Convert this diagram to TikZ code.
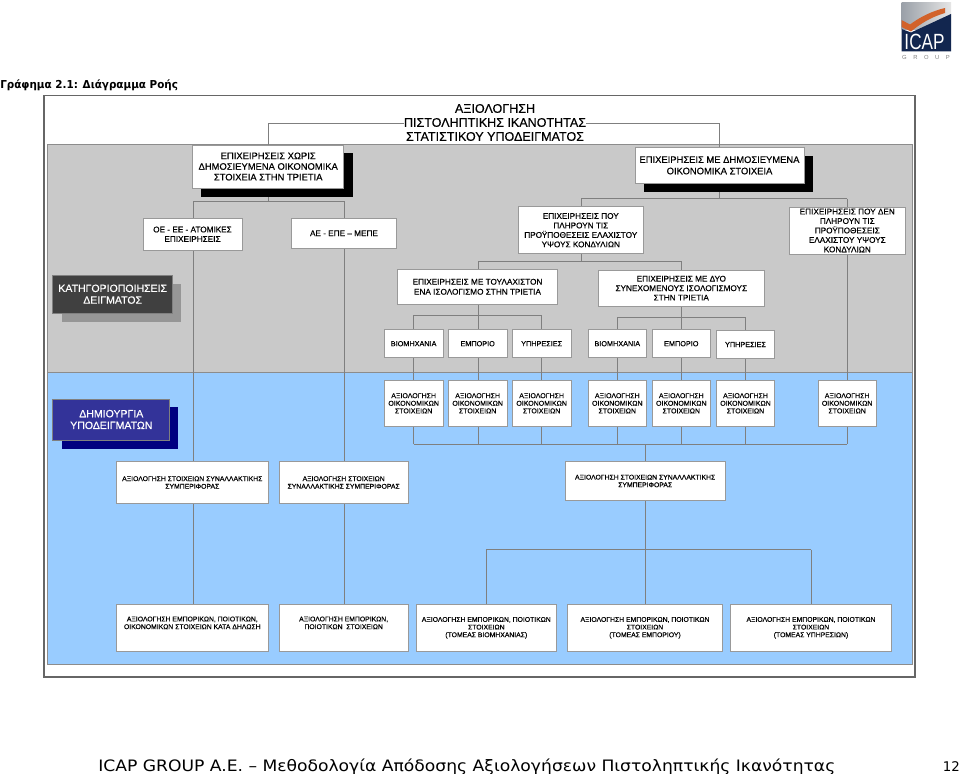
\documentclass[tikz,border=0pt]{standalone}
\usepackage{fontspec}
\setmainfont{Liberation Sans}
\newfontfamily\fb[FakeBold=0.3]{Liberation Sans}
\newfontfamily\tahoma{DejaVu Sans}
\definecolor{panelgray}{HTML}{C9C9C9}
\definecolor{panelblue}{HTML}{99CCFF}
\definecolor{linegray}{HTML}{7F7F7F}
\definecolor{darkbox}{HTML}{404040}
\definecolor{darkshadow}{HTML}{969696}
\definecolor{bluebox}{HTML}{333399}
\definecolor{blueshadow}{HTML}{000080}
\definecolor{logonavy}{HTML}{12264F}
\definecolor{logoorange}{HTML}{D2622A}
\definecolor{logogray}{HTML}{9AA0A8}
\tikzset{
  x=0.75pt,y=-0.75pt,
  conn/.style={draw=linegray,line width=0.7pt},
  wbox/.style={draw=linegray!80,line width=0.6pt,fill=white},
  labA/.style={align=center,inner sep=0pt,font=\fb\fontsize{7.05}{8}\selectfont,text=black},
  labB/.style={align=center,inner sep=0pt,font=\fb\fontsize{6.15}{7.1}\selectfont,text=black},
  labS/.style={align=center,inner sep=0pt,font=\fb\fontsize{5.45}{7}\selectfont,text=black},
  labE/.style={align=center,inner sep=0pt,font=\fb\fontsize{5.25}{5.7}\selectfont,text=black},
  labT/.style={align=center,inner sep=0pt,font=\fb\fontsize{5.12}{5.75}\selectfont,text=black},
  side/.style={align=center,inner sep=0pt,text=white,font=\fb\fontsize{7.9}{8.8}\selectfont},
}
% box: style, name, x1,y1,x2,y2, text
\newcommand{\bx}[7][labB]{%
  \draw[wbox] (#3,#4) rectangle (#5,#6);
  \node[#1] (#2) at ({(#3+#5)/2},{(#4+#6)/2}) {#7};
}
\begin{document}
\begin{tikzpicture}
\useasboundingbox (0,0) rectangle (960,774);
\fill[white] (0,0) rectangle (960,774);
% frame and panels
\draw[draw=gray!80!black,line width=1pt,fill=white] (44,95.5) rectangle (915,677);
\fill[panelgray,draw=gray!90] (47,144.5) rectangle (912,372);
\fill[panelblue,draw=gray!90] (47,372) rectangle (912,664);
% coordinates of the trunk lines
\coordinate (tL) at (268,123);
\coordinate (tR) at (719,123);
\coordinate (a1) at (193,201);
\coordinate (a2) at (344,201);
\coordinate (b1) at (581,198.5);
\coordinate (b2) at (847.3,198.5);
\coordinate (c1) at (478,261);
\coordinate (c2) at (681.3,261);
\coordinate (d1) at (413.7,315);
\coordinate (d3) at (541.7,315);
\coordinate (e1) at (617.3,317);
\coordinate (e3) at (745.7,317);
\coordinate (f1) at (413.7,444.3);
\coordinate (f2) at (847.3,444.3);
\coordinate (f0) at (645,444.3);
\coordinate (g1) at (486.3,549.7);
\coordinate (g2) at (811,549.7);
% connectors
\draw[conn] (193,201) -- (193,604.3);
\draw[conn] (344,201) -- (344,604.3);
\draw[conn] (a1) -- (a2);
\draw[conn] (268,123) -- (268,201);
\draw[conn] (tL) -- (404,123);
\draw[conn] (586,123) -- (tR) -- (719,198.5);
\draw[conn] (b1) -- (b2);
\draw[conn] (b2) -- (847.3,444.3);
\draw[conn] (b1) -- (581,261);
\draw[conn] (c1) -- (c2);
\draw[conn] (c1) -- (478,444.3);
\draw[conn] (c2) -- (681.3,444.3);
\draw[conn] (d1) -- (d3);
\draw[conn] (e1) -- (e3);
\draw[conn] (d1) -- (f1);
\draw[conn] (d3) -- (541.7,444.3);
\draw[conn] (e1) -- (617.3,444.3);
\draw[conn] (e3) -- (745.7,444.3);
\draw[conn] (f1) -- (f2);
\draw[conn] (f0) -- (645,604.3);
\draw[conn] (g1) -- (g2);
\draw[conn] (g1) -- (486.3,604.3);
\draw[conn] (g2) -- (811,604.3);
% title
\node[align=center,inner sep=0pt,font=\fb\fontsize{9.4}{10.5}\selectfont,fill=white] (title) at (495,122.5) {ΑΞΙΟΛΟΓΗΣΗ\\ΠΙΣΤΟΛΗΠΤΙΚΗΣ ΙΚΑΝΟΤΗΤΑΣ\\ΣΤΑΤΙΣΤΙΚΟΥ ΥΠΟΔΕΙΓΜΑΤΟΣ};
% shadowed boxes
\fill[black] (201,153) rectangle (352.5,196.5);
\fill[black] (644,156) rectangle (812.5,192);
\bx[labA]{n1}{192.7}{145}{343.7}{188}{ΕΠΙΧΕΙΡΗΣΕΙΣ ΧΩΡΙΣ\\ΔΗΜΟΣΙΕΥΜΕΝΑ ΟΙΚΟΝΟΜΙΚΑ\\ΣΤΟΙΧΕΙΑ ΣΤΗΝ ΤΡΙΕΤΙΑ}
\bx[labA]{n2}{635}{147.7}{804}{183}{ΕΠΙΧΕΙΡΗΣΕΙΣ ΜΕ ΔΗΜΟΣΙΕΥΜΕΝΑ\\[0.5pt]ΟΙΚΟΝΟΜΙΚΑ ΣΤΟΙΧΕΙΑ}
\bx{n3}{143}{218}{242}{250.5}{ΟΕ - ΕΕ - ΑΤΟΜΙΚΕΣ\\ΕΠΙΧΕΙΡΗΣΕΙΣ}
\bx{n4}{291.5}{218.5}{396.5}{248}{ΑΕ - ΕΠΕ – ΜΕΠΕ}
\bx{n5}{518.3}{206.7}{643.3}{253.7}{ΕΠΙΧΕΙΡΗΣΕΙΣ ΠΟΥ\\ΠΛΗΡΟΥΝ ΤΙΣ\\ΠΡΟΫΠΟΘΕΣΕΙΣ ΕΛΑΧΙΣΤΟΥ\\ΥΨΟΥΣ ΚΟΝΔΥΛΙΩΝ}
\bx{n6}{789.3}{207}{905.3}{254}{ΕΠΙΧΕΙΡΗΣΕΙΣ ΠΟΥ ΔΕΝ\\ΠΛΗΡΟΥΝ ΤΙΣ\\ΠΡΟΫΠΟΘΕΣΕΙΣ\\ΕΛΑΧΙΣΤΟΥ ΥΨΟΥΣ\\ΚΟΝΔΥΛΙΩΝ}
\bx{n7}{397.3}{269.3}{557.7}{304.3}{ΕΠΙΧΕΙΡΗΣΕΙΣ ΜΕ ΤΟΥΛΑΧΙΣΤΟΝ\\[0.4pt]ΕΝΑ ΙΣΟΛΟΓΙΣΜΟ ΣΤΗΝ ΤΡΙΕΤΙΑ}
\bx{n8}{598.3}{270.3}{764.3}{306}{ΕΠΙΧΕΙΡΗΣΕΙΣ ΜΕ ΔΥΟ\\ΣΥΝΕΧΟΜΕΝΟΥΣ ΙΣΟΛΟΓΙΣΜΟΥΣ\\ΣΤΗΝ ΤΡΙΕΤΙΑ}
% category row
\bx[labS]{s1}{384.3}{329.7}{443}{357.7}{ΒΙΟΜΗΧΑΝΙΑ}
\bx[labS]{s2}{448.3}{329.7}{507}{357.7}{ΕΜΠΟΡΙΟ}
\bx[labS]{s3}{512.3}{329.7}{571}{357.7}{ΥΠΗΡΕΣΙΕΣ}
\bx[labS]{s4}{588.3}{329.7}{646.3}{357.7}{ΒΙΟΜΗΧΑΝΙΑ}
\bx[labS]{s5}{652.3}{329.7}{710.3}{357.7}{ΕΜΠΟΡΙΟ}
\bx[labS]{s6}{716.3}{330.7}{774.7}{358.3}{ΥΠΗΡΕΣΙΕΣ}
% evaluation row
\bx[labE]{e1n}{384.3}{380.3}{443}{426.3}{ΑΞΙΟΛΟΓΗΣΗ\\ΟΙΚΟΝΟΜΙΚΩΝ\\ΣΤΟΙΧΕΙΩΝ}
\bx[labE]{e2n}{448.3}{380.3}{507}{426.3}{ΑΞΙΟΛΟΓΗΣΗ\\ΟΙΚΟΝΟΜΙΚΩΝ\\ΣΤΟΙΧΕΙΩΝ}
\bx[labE]{e3n}{512.3}{380.3}{571}{426.3}{ΑΞΙΟΛΟΓΗΣΗ\\ΟΙΚΟΝΟΜΙΚΩΝ\\ΣΤΟΙΧΕΙΩΝ}
\bx[labE]{e4n}{588.3}{380.3}{646.3}{426.3}{ΑΞΙΟΛΟΓΗΣΗ\\ΟΙΚΟΝΟΜΙΚΩΝ\\ΣΤΟΙΧΕΙΩΝ}
\bx[labE]{e5n}{652.3}{380.3}{710.3}{426.3}{ΑΞΙΟΛΟΓΗΣΗ\\ΟΙΚΟΝΟΜΙΚΩΝ\\ΣΤΟΙΧΕΙΩΝ}
\bx[labE]{e6n}{716.3}{380.3}{774.7}{426.3}{ΑΞΙΟΛΟΓΗΣΗ\\ΟΙΚΟΝΟΜΙΚΩΝ\\ΣΤΟΙΧΕΙΩΝ}
\bx[labE]{e7n}{818}{380.3}{876.3}{426.3}{ΑΞΙΟΛΟΓΗΣΗ\\ΟΙΚΟΝΟΜΙΚΩΝ\\ΣΤΟΙΧΕΙΩΝ}
% behaviour row
\bx[labT]{t1}{116.3}{461.7}{268.3}{503.3}{ΑΞΙΟΛΟΓΗΣΗ ΣΤΟΙΧΕΙΩΝ ΣΥΝΑΛΛΑΚΤΙΚΗΣ\\ΣΥΜΠΕΡΙΦΟΡΑΣ}
\bx[labT]{t2}{279.3}{461.7}{408}{503.3}{ΑΞΙΟΛΟΓΗΣΗ ΣΤΟΙΧΕΙΩΝ\\ΣΥΝΑΛΛΑΚΤΙΚΗΣ ΣΥΜΠΕΡΙΦΟΡΑΣ}
\bx[labT]{t3}{565}{461.7}{725.3}{500.3}{ΑΞΙΟΛΟΓΗΣΗ ΣΤΟΙΧΕΙΩΝ ΣΥΝΑΛΛΑΚΤΙΚΗΣ\\ΣΥΜΠΕΡΙΦΟΡΑΣ}
% bottom row
\bx[labT]{u1}{116.3}{604.3}{268.3}{651.3}{ΑΞΙΟΛΟΓΗΣΗ ΕΜΠΟΡΙΚΩΝ, ΠΟΙΟΤΙΚΩΝ,\\ΟΙΚΟΝΟΜΙΚΩΝ ΣΤΟΙΧΕΙΩΝ ΚΑΤΑ ΔΗΛΩΣΗ\\\strut}
\bx[labT]{u2}{279.3}{604.3}{408}{651.3}{ΑΞΙΟΛΟΓΗΣΗ ΕΜΠΟΡΙΚΩΝ,\\ΠΟΙΟΤΙΚΩΝ\ \ ΣΤΟΙΧΕΙΩΝ\\\strut}
\bx[labT]{u3}{416.3}{604.3}{556.3}{651.3}{ΑΞΙΟΛΟΓΗΣΗ ΕΜΠΟΡΙΚΩΝ, ΠΟΙΟΤΙΚΩΝ\\ΣΤΟΙΧΕΙΩΝ\\(ΤΟΜΕΑΣ ΒΙΟΜΗΧΑΝΙΑΣ)}
\bx[labT]{u4}{567.7}{604.3}{722.3}{651.3}{ΑΞΙΟΛΟΓΗΣΗ ΕΜΠΟΡΙΚΩΝ, ΠΟΙΟΤΙΚΩΝ\\ΣΤΟΙΧΕΙΩΝ\\(ΤΟΜΕΑΣ ΕΜΠΟΡΙΟΥ)}
\bx[labT]{u5}{730.7}{604.3}{891.3}{651.3}{ΑΞΙΟΛΟΓΗΣΗ ΕΜΠΟΡΙΚΩΝ, ΠΟΙΟΤΙΚΩΝ\\ΣΤΟΙΧΕΙΩΝ\\(ΤΟΜΕΑΣ ΥΠΗΡΕΣΙΩΝ)}
% side labels
\fill[darkshadow] (61.5,283.7) rectangle (181,321.7);
\fill[darkbox,draw=gray] (52.7,275.7) rectangle (172.3,313.7);
\node[side] (cat) at (112.7,294.2) {ΚΑΤΗΓΟΡΙΟΠΟΙΗΣΕΙΣ\\ΔΕΙΓΜΑΤΟΣ};
\fill[blueshadow] (61.5,407) rectangle (178,448.5);
\fill[bluebox,draw=gray] (52.7,399) rectangle (169,440.3);
\node[side] (gen) at (111.3,419.5) {ΔΗΜΙΟΥΡΓΙΑ\\ΥΠΟΔΕΙΓΜΑΤΩΝ};
% heading and footer
\node[anchor=base west,inner sep=0pt,xscale=0.95,font=\tahoma\bfseries\fontsize{8.2}{10}\selectfont] (head) at (0,88.5) {Γράφημα 2.1: Διάγραμμα Ροής};
\node[anchor=base west,inner sep=0pt,xscale=1.09,font=\tahoma\fontsize{11.8}{13}\selectfont] (foot) at (98,771) {ICAP GROUP A.E. – Μεθοδολογία Απόδοσης Αξιολογήσεων Πιστοληπτικής Ικανότητας};
\node[anchor=base east,inner sep=0pt,font=\tahoma\fontsize{10}{12}\selectfont] (pg) at (960,771) {12};
% logo
\shade[left color=logogray,right color=gray!20] (901.5,2.5) rectangle (951,30);
\fill[logonavy] (901.5,29) -- (911,32.5) -- (951,14) -- (951,51.5) -- (901.5,51.5) -- cycle;
\fill[logoorange] (901.5,20) -- (910,24.5) .. controls (920,17) and (932,11) .. (945,8) -- (945,13) .. controls (931,17) and (920,24) .. (911,31.5) -- (901.5,27) -- cycle;
\node[inner sep=0pt,text=white,xscale=0.78,font=\fontsize{16.5}{16.5}\selectfont] (icap) at (924.5,41.5) {ICAP};
\node[inner sep=0pt,text=gray,font=\fontsize{4.4}{5}\selectfont] (grp) at (926,57) {G\ \ \ \ R\ \ \ \ O\ \ \ \ U\ \ \ \ P};
\end{tikzpicture}
\end{document}
